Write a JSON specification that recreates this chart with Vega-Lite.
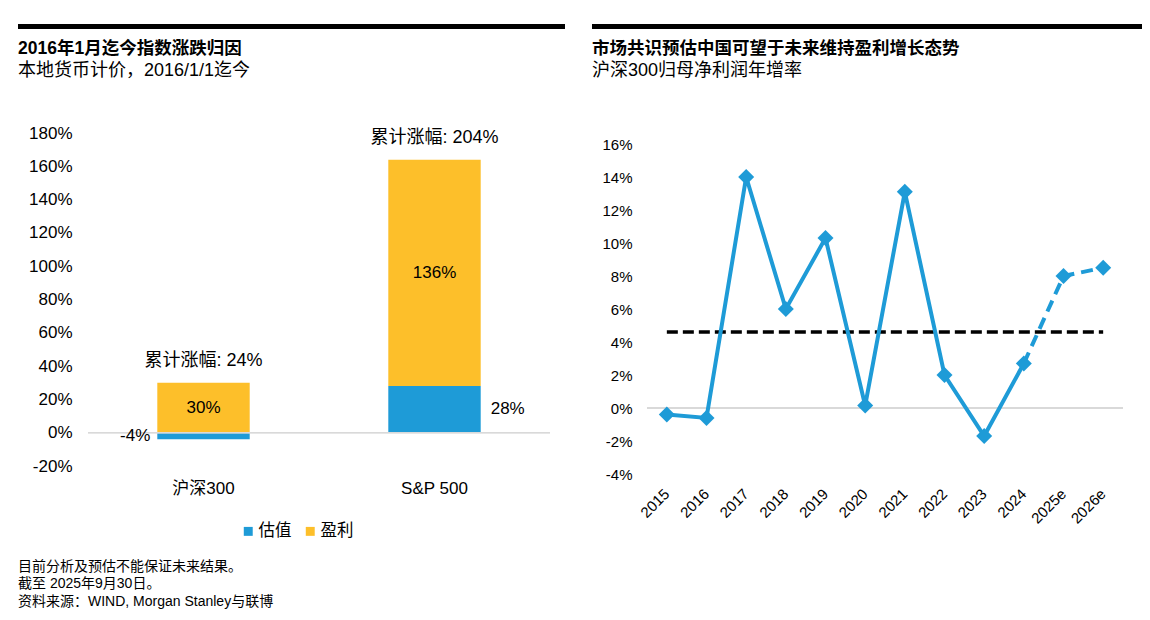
{
  "$schema": "https://vega.github.io/schema/vega-lite/v6.json",
  "background": "white",
  "padding": {"left": 18, "top": 24, "right": 8, "bottom": 6},
  "config": {
    "font": "Liberation Sans, Noto Sans CJK SC",
    "view": {"stroke": null}
  },
  "title": {
    "text": "目前分析及预估不能保证未来结果。",
    "subtitle": ["截至 2025年9月30日。", "资料来源：WIND, Morgan Stanley与联博"],
    "orient": "bottom",
    "anchor": "start",
    "frame": "bounds",
    "fontSize": 14,
    "fontWeight": "normal",
    "color": "black",
    "subtitleFontSize": 14,
    "subtitleColor": "black",
    "subtitlePadding": 3,
    "subtitleLineHeight": 17.5,
    "offset": 20
  },
  "datasets": {
    "attrib": [
      {"index": "沪深300", "part": "估值", "value": -4, "label": "-4%"},
      {"index": "沪深300", "part": "盈利", "value": 30, "label": "30%"},
      {"index": "S&P 500", "part": "估值", "value": 28, "label": "28%"},
      {"index": "S&P 500", "part": "盈利", "value": 136, "label": "136%"}
    ],
    "totals": [
      {"index": "沪深300", "total": "累计涨幅: 24%"},
      {"index": "S&P 500", "total": "累计涨幅: 204%"}
    ],
    "growth": [
      {"year": "2015", "value": -0.4, "kind": "实际"},
      {"year": "2016", "value": -0.6, "kind": "实际"},
      {"year": "2017", "value": 14.0, "kind": "实际"},
      {"year": "2018", "value": 6.0, "kind": "实际"},
      {"year": "2019", "value": 10.3, "kind": "实际"},
      {"year": "2020", "value": 0.15, "kind": "实际"},
      {"year": "2021", "value": 13.1, "kind": "实际"},
      {"year": "2022", "value": 2.0, "kind": "实际"},
      {"year": "2023", "value": -1.7, "kind": "实际"},
      {"year": "2024", "value": 2.7, "kind": "实际"},
      {"year": "2025e", "value": 8.0, "kind": "预估"},
      {"year": "2026e", "value": 8.5, "kind": "预估"}
    ],
    "avg": [{"avg": 4.6}]
  },
  "spacing": 27,
  "hconcat": [
    {
      "spacing": 10,
      "vconcat": [
        {
          "width": 462,
          "height": 5,
          "data": {"values": [{}]},
          "mark": {"type": "rect", "color": "black", "clip": false},
          "encoding": {
            "x": {"datum": 0, "type": "quantitative", "scale": {"domain": [0, 1], "range": [-70, 477]}, "axis": null},
            "x2": {"datum": 1}
          }
        },
        {
          "width": 462,
          "height": 333,
          "title": {
            "text": "2016年1月迄今指数涨跌归因",
            "subtitle": "本地货币计价，2016/1/1迄今",
            "anchor": "start",
            "frame": "group",
            "dx": -70,
            "fontSize": 17.5,
            "fontWeight": "bold",
            "color": "black",
            "subtitleFontSize": 18,
            "subtitleColor": "black",
            "subtitlePadding": 5,
            "offset": 44
          },
          "data": {"name": "attrib"},
          "resolve": {"axis": {"x": "independent", "y": "independent"}},
          "layer": [
            {
              "mark": {"type": "bar"},
              "encoding": {
                "x": {
                  "field": "index", "type": "nominal", "sort": ["沪深300", "S&P 500"],
                  "scale": {"paddingInner": 0.6, "paddingOuter": 0.3},
                  "title": null,
                  "axis": {"labelAngle": 0, "labelFontSize": 17, "labelPadding": 14, "labelColor": "black", "ticks": false, "domain": false}
                },
                "y": {
                  "field": "value", "type": "quantitative", "stack": "zero",
                  "scale": {"domain": [-20, 180], "nice": false},
                  "title": null,
                  "axis": {"values": [-20, 0, 20, 40, 60, 80, 100, 120, 140, 160, 180], "labelExpr": "datum.value + '%'", "labelFontSize": 17, "labelPadding": 16, "labelColor": "black", "ticks": false, "domain": false, "grid": false, "labelOverlap": false}
                },
                "color": {
                  "field": "part", "type": "nominal",
                  "scale": {"domain": ["估值", "盈利"], "range": ["#1E9BD7", "#FDBF2A"]},
                  "legend": {"orient": "none", "legendX": 152, "legendY": 499, "direction": "horizontal", "title": null, "symbolType": "square", "symbolSize": 80, "symbolStrokeWidth": 0, "labelFontSize": 16.5, "labelOffset": 2, "columnPadding": 10, "labelColor": "black", "padding": 0}
                },
                "order": {"field": "part", "sort": "ascending"}
              }
            },
            {
              "mark": {"type": "rule", "color": "#D9D9D9", "strokeWidth": 1.3},
              "encoding": {"y": {"datum": 0, "type": "quantitative", "axis": null}}
            },
            {
              "transform": [
                {"stack": "value", "groupby": ["index"], "sort": [{"field": "part", "order": "ascending"}], "as": ["v0", "v1"]},
                {"fold": ["v0", "v1"], "as": ["k", "pos"]},
                {"aggregate": [{"op": "mean", "field": "pos", "as": "mid"}], "groupby": ["index", "part", "label"]}
              ],
              "resolve": {"axis": {"x": "independent", "y": "independent"}},
              "layer": [
                {
                  "transform": [{"filter": "datum.part === '盈利'"}],
                  "mark": {"type": "text", "fontSize": 17, "color": "black", "baseline": "middle"},
                  "encoding": {
                    "x": {"field": "index", "type": "nominal", "sort": ["沪深300", "S&P 500"], "axis": null},
                    "y": {"field": "mid", "type": "quantitative", "axis": null},
                    "text": {"field": "label"}
                  }
                },
                {
                  "transform": [{"filter": "datum.part === '估值' && datum.index === '沪深300'"}],
                  "mark": {"type": "text", "fontSize": 17, "color": "black", "baseline": "middle", "align": "right", "dx": -7},
                  "encoding": {
                    "x": {"field": "index", "type": "nominal", "sort": ["沪深300", "S&P 500"], "bandPosition": 0, "axis": null},
                    "y": {"field": "mid", "type": "quantitative", "axis": null},
                    "text": {"field": "label"}
                  }
                },
                {
                  "transform": [{"filter": "datum.part === '估值' && datum.index === 'S&P 500'"}],
                  "mark": {"type": "text", "fontSize": 17, "color": "black", "baseline": "middle", "align": "left", "dx": 10},
                  "encoding": {
                    "x": {"field": "index", "type": "nominal", "sort": ["沪深300", "S&P 500"], "bandPosition": 1, "axis": null},
                    "y": {"field": "mid", "type": "quantitative", "axis": null},
                    "text": {"field": "label"}
                  }
                }
              ]
            },
            {
              "transform": [
                {"stack": "value", "groupby": ["index"], "sort": [{"field": "part", "order": "ascending"}], "as": ["v0", "v1"]},
                {"filter": "datum.part === '盈利'"},
                {"lookup": "index", "from": {"data": {"name": "totals"}, "key": "index", "fields": ["total"]}}
              ],
              "mark": {"type": "text", "fontSize": 18, "color": "black", "baseline": "middle", "dy": -22},
              "encoding": {
                "x": {"field": "index", "type": "nominal", "sort": ["沪深300", "S&P 500"], "axis": null},
                "y": {"field": "v1", "type": "quantitative", "axis": null},
                "text": {"field": "total"}
              }
            }
          ]
        }
      ]
    },
    {
      "spacing": 10,
      "vconcat": [
        {
          "width": 476,
          "height": 5,
          "data": {"values": [{}]},
          "mark": {"type": "rect", "color": "black", "clip": false},
          "encoding": {
            "x": {"datum": 0, "type": "quantitative", "scale": {"domain": [0, 1], "range": [-55, 495]}, "axis": null},
            "x2": {"datum": 1}
          }
        },
        {
          "width": 476,
          "height": 330,
          "title": {
            "text": "市场共识预估中国可望于未来维持盈利增长态势",
            "subtitle": "沪深300归母净利润年增率",
            "anchor": "start",
            "frame": "group",
            "dx": -55,
            "fontSize": 17.5,
            "fontWeight": "bold",
            "color": "black",
            "subtitleFontSize": 18,
            "subtitleColor": "black",
            "subtitlePadding": 5,
            "offset": 57
          },
          "data": {"name": "growth"},
          "resolve": {"axis": {"x": "independent", "y": "independent"}},
          "layer": [
            {
              "mark": {"type": "rule", "color": "#D9D9D9", "strokeWidth": 1.3},
              "encoding": {"y": {"datum": 0, "type": "quantitative", "axis": null}}
            },
            {
              "data": {"name": "avg"},
              "mark": {"type": "rule", "color": "black", "strokeWidth": 3.5, "strokeDash": [11, 5]},
              "encoding": {
                "x": {"datum": "2015", "type": "ordinal", "axis": null},
                "x2": {"datum": "2026e"},
                "y": {"field": "avg", "type": "quantitative", "axis": null}
              }
            },
            {
              "transform": [{"filter": "datum.kind === '实际'"}],
              "mark": {"type": "line", "color": "#1E9BD7", "strokeWidth": 4},
              "encoding": {
                "x": {
                  "field": "year", "type": "ordinal", "title": null,
                  "axis": {"labelAngle": -45, "labelAlign": "right", "labelBaseline": "middle", "labelPadding": 17, "labelFontSize": 15, "labelColor": "black", "ticks": false, "domain": false, "labelOverlap": false}
                },
                "y": {
                  "field": "value", "type": "quantitative",
                  "scale": {"domain": [-4, 16], "nice": false},
                  "title": null,
                  "axis": {"values": [-4, -2, 0, 2, 4, 6, 8, 10, 12, 14, 16], "labelExpr": "datum.value + '%'", "labelFontSize": 15, "labelPadding": 15, "labelColor": "black", "ticks": false, "domain": false, "grid": false, "labelOverlap": false}
                }
              }
            },
            {
              "transform": [{"filter": "datum.kind === '预估' || datum.year === '2024'"}],
              "mark": {"type": "line", "color": "#1E9BD7", "strokeWidth": 4, "strokeDash": [12, 7]},
              "encoding": {
                "x": {"field": "year", "type": "ordinal", "axis": null},
                "y": {"field": "value", "type": "quantitative", "axis": null}
              }
            },
            {
              "mark": {"type": "point", "shape": "diamond", "filled": true, "size": 256, "color": "#1E9BD7", "opacity": 1},
              "encoding": {
                "x": {"field": "year", "type": "ordinal", "axis": null},
                "y": {"field": "value", "type": "quantitative", "axis": null}
              }
            }
          ]
        }
      ]
    }
  ]
}
